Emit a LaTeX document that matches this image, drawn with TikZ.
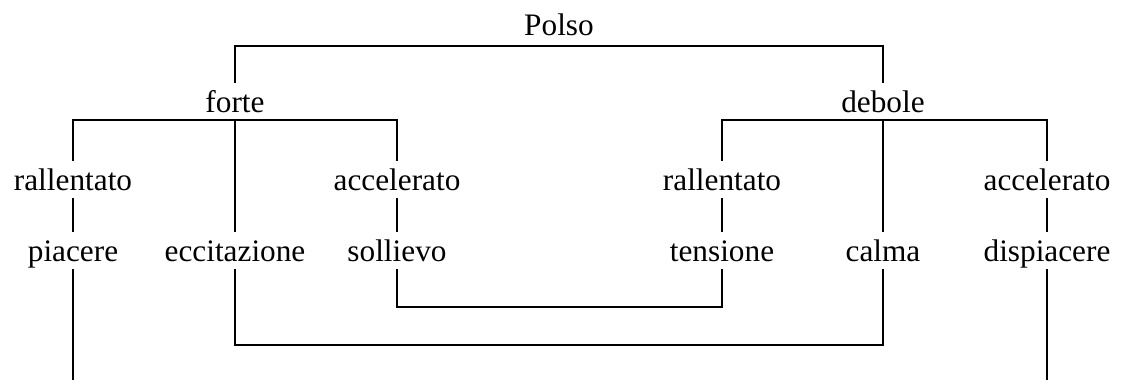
\documentclass[tikz,border=0pt]{standalone}
\usepackage{fontspec}
\setmainfont{Liberation Serif}
\usepackage{tikz}

\begin{document}
\begin{tikzpicture}[
    word/.style = {inner sep=0pt, anchor=base, text height=0.6cm, text depth=0.14cm,
      font=\fontsize{17.8}{21}\selectfont},
    conn/.style = {line width=1.1pt, black}
  ]
    \useasboundingbox (0, 0) rectangle (22.66, 7.6);
    \begin{scope} % Root and first split
        \node [word] (polso) at (11.18, 6.88) {Polso};
        \node [word] (forte) at (4.7, 5.34) {forte};
        \node [word] (debole) at (17.66, 5.34) {debole};
        \draw [conn] (forte.north) |- ([yshift=-1.5pt]polso.south) -| (debole.north);
    \end{scope}
    \begin{scope} % Rhythm of the pulse
        \node [word] (rallF) at (1.46, 3.78) {rallentato};
        \node [word] (accF) at (7.94, 3.78) {accelerato};
        \node [word] (rallD) at (14.44, 3.78) {rallentato};
        \node [word] (accD) at (20.94, 3.78) {accelerato};
        \draw [conn] (rallF.north) |- (forte.south) -| (accF.north);
        \draw [conn] (rallD.north) |- (debole.south) -| (accD.north);
    \end{scope}
    \begin{scope} % Feelings
        \node [word] (piacere) at (1.46, 2.36) {piacere};
        \node [word] (eccit) at (4.7, 2.36) {eccitazione};
        \node [word] (sollievo) at (7.94, 2.36) {sollievo};
        \node [word] (tensione) at (14.44, 2.36) {tensione};
        \node [word] (calma) at (17.66, 2.36) {calma};
        \node [word] (dispiacere) at (20.94, 2.36) {dispiacere};
        \draw [conn] (rallF.south) -- (piacere.north);
        \draw [conn] (forte.south) -- (eccit.north);
        \draw [conn] (accF.south) -- (sollievo.north);
        \draw [conn] (rallD.south) -- (tensione.north);
        \draw [conn] (debole.south) -- (calma.north);
        \draw [conn] (accD.south) -- (dispiacere.north);
    \end{scope}
    \begin{scope} % Links between the two branches
        \coordinate (barIn) at (0, 1.46);
        \coordinate (barOut) at (0, 0.7);
        \coordinate (endL) at (1.46, 0);
        \coordinate (endR) at (20.94, 0);
        \draw [conn] (sollievo.south) -- (sollievo.south |- barIn) -| (tensione.south);
        \draw [conn] (eccit.south) -- (eccit.south |- barOut) -| (calma.south);
        \draw [conn] (piacere.south) -- (endL);
        \draw [conn] (dispiacere.south) -- (endR);
    \end{scope}
\end{tikzpicture}
\end{document}
